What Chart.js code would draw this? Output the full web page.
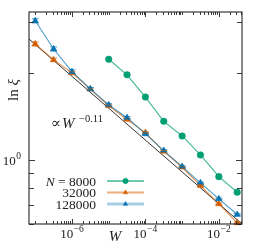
<!DOCTYPE html>
<html>
<head>
<meta charset="utf-8">
<script src="https://cdn.jsdelivr.net/npm/chart.js@4/dist/chart.umd.min.js"></script>
<style>
  html, body { margin: 0; padding: 0; background: #fff; }
</style>
</head>
<body>
<canvas id="chart" width="254" height="248"></canvas>
<script>
// disorder strength W (half-decade steps)
const W = [1e-7, 3.16e-7, 1e-6, 3.16e-6, 1e-5, 3.16e-5, 1e-4, 3.16e-4, 1e-3, 3.16e-3, 1e-2, 3.16e-2]
const xi8000 = [null, null, null, null, 2.23, 1.97, 1.65, 1.36, 1.21, 1.04, 0.875, 0.773]
const xi32000 = [2.52, 2.22, 2.00, 1.757, 1.54, 1.38, 1.243, 1.07, 0.943, 0.815, 0.704, 0.605]
const xi128000 = [3.03, 2.42, 2.02, 1.76, 1.55, 1.40, 1.23, 1.077, 0.948, 0.833, 0.733, 0.647]
const err32000 = [0.04, 0.03, 0.02, 0.015, 0.012, 0.01, 0.01, 0.008, 0.006, 0.005, 0.005, 0.004]
const err128000 = [0.05, 0.04, 0.03, 0.02, 0.015, 0.012, 0.01, 0.008, 0.006, 0.005, 0.005, 0.004]
const seriesLabels = ['8000', '32000', '128000']
// guide line  ∝ W^-0.11
const guideW = [6.3e-8, 4.3e-2]
const guideXi = [2.64, 0.60]
// axis ticks
const xDecades = [1e-7, 1e-6, 1e-5, 1e-4, 1e-3, 1e-2]
const xLabelled = [1e-6, 1e-4, 1e-2]
const yTicks = [0.6, 0.7, 0.8, 0.9, 1, 2, 3]
const yLabelled = [1]

const colors = ['#009E73', '#D55E00', '#0072B2']
const lineColors = ['rgba(0,158,115,0.75)', 'rgba(213,94,0,0.7)', 'rgba(0,114,178,0.7)']
const SERIF = '"Liberation Serif", "DejaVu Serif", serif'

function pts (ys) {
  const out = []
  ys.forEach((y, i) => { if (y !== null) out.push({ x: W[i], y: y }) })
  return out
}

function sciLabel (ctx, exp, cx, baseline, align) {
  ctx.font = '13px ' + SERIF
  const base = '10'
  const bw = ctx.measureText(base).width
  ctx.font = '9.5px ' + SERIF
  const e = exp < 0 ? '\u2212' + Math.abs(exp) : String(exp)
  const ew = ctx.measureText(e).width
  const total = bw + ew + 0.5
  let x0 = cx - total / 2
  if (align === 'right') x0 = cx - total
  ctx.textAlign = 'left'
  ctx.textBaseline = 'alphabetic'
  ctx.font = '13px ' + SERIF
  ctx.fillText(base, x0, baseline)
  ctx.font = '9.5px ' + SERIF
  ctx.fillText(e, x0 + bw + 0.5, baseline - 6)
}

const errorBars = {
  id: 'errorBars',
  afterDatasetsDraw (chart) {
    const ctx = chart.ctx
    const { x, y } = chart.scales
    chart.data.datasets.forEach((ds, di) => {
      if (!ds.errors) return
      ctx.save()
      ctx.strokeStyle = ds.borderColor
      ctx.lineWidth = 1
      ds.data.forEach((p, i) => {
        const e = ds.errors[i]
        const px = x.getPixelForValue(p.x)
        const y1 = y.getPixelForValue(p.y - e)
        const y2 = y.getPixelForValue(p.y + e)
        ctx.beginPath()
        ctx.moveTo(px, y1); ctx.lineTo(px, y2)
        ctx.moveTo(px - 3.5, y1); ctx.lineTo(px + 3.5, y1)
        ctx.moveTo(px - 3.5, y2); ctx.lineTo(px + 3.5, y2)
        ctx.stroke()
      })
      ctx.restore()
    })
  }
}

const frame = {
  id: 'frame',
  afterDraw (chart) {
    const ctx = chart.ctx
    const a = chart.chartArea
    const { x, y } = chart.scales
    ctx.save()
    ctx.strokeStyle = '#262626'
    ctx.lineWidth = 1.1
    ctx.strokeRect(a.left, a.top, a.right - a.left, a.bottom - a.top)

    // x ticks, inward on bottom and top
    ctx.lineWidth = 0.9
    ctx.beginPath()
    xDecades.forEach(d => {
      for (let m = 1; m <= 9; m++) {
        const v = d * m
        if (v < x.min || v > x.max) continue
        const px = Math.round(x.getPixelForValue(v)) + 0.5
        const len = (m === 1 && xLabelled.includes(d)) ? 5 : 3
        ctx.moveTo(px, a.bottom); ctx.lineTo(px, a.bottom - len)
        ctx.moveTo(px, a.top); ctx.lineTo(px, a.top + len)
      }
    })
    // y ticks, inward on left and right
    yTicks.forEach(v => {
      const py = Math.round(y.getPixelForValue(v)) + 0.5
      const len = yLabelled.includes(v) ? 6 : 5
      ctx.moveTo(a.left, py); ctx.lineTo(a.left + len, py)
      ctx.moveTo(a.right, py); ctx.lineTo(a.right - len, py)
    })
    ctx.stroke()

    // tick labels
    ctx.fillStyle = '#222'
    xLabelled.forEach(v => {
      sciLabel(ctx, Math.round(Math.log10(v)), x.getPixelForValue(v), a.bottom + 14, 'center')
    })
    yLabelled.forEach(v => {
      sciLabel(ctx, Math.round(Math.log10(v)), a.left - 8, y.getPixelForValue(v) + 5, 'right')
    })

    // axis titles
    ctx.font = 'italic 15px ' + SERIF
    ctx.textAlign = 'center'
    ctx.textBaseline = 'alphabetic'
    ctx.fillText('W', 115, 241)

    ctx.save()
    ctx.translate(18, 90)
    ctx.rotate(-Math.PI / 2)
    ctx.font = '15px ' + SERIF
    const lnW = ctx.measureText('ln ').width
    ctx.font = 'italic 15px ' + SERIF
    const xiW = ctx.measureText('\u03BE').width
    const start = -(lnW + xiW) / 2
    ctx.textAlign = 'left'
    ctx.font = '15px ' + SERIF
    ctx.fillText('ln ', start, 0)
    ctx.font = 'italic 15px ' + SERIF
    ctx.fillText('\u03BE', start + lnW, 0)
    ctx.restore()

    // guide annotation
    ctx.textAlign = 'left'
    ctx.font = '15px ' + SERIF
    ctx.fillText('\u221D', 51, 128)
    ctx.font = 'italic 15px ' + SERIF
    ctx.fillText('W', 62, 128)
    ctx.font = '10.5px ' + SERIF
    ctx.fillText('\u22120.11', 79, 122)

    // legend: text on the left, handle on the right
    const rows = [181, 192.5, 204]
    const lw = [1.3, 1.8, 3]
    const legLine = ['rgba(0,158,115,0.75)', 'rgba(213,94,0,0.5)', 'rgba(0,114,178,0.35)']
    chart.data.datasets.slice(0, 3).forEach((ds, i) => {
      const yy = rows[i]
      ctx.textAlign = 'right'
      ctx.textBaseline = 'middle'
      ctx.fillStyle = '#222'
      ctx.font = '13.5px ' + SERIF
      ctx.fillText(seriesLabels[i], 96, yy + 1)
      if (i === 0) {
        const numW = ctx.measureText(seriesLabels[i]).width
        const eqW = ctx.measureText(' = ').width
        ctx.fillText(' = ', 96 - numW, yy + 1)
        ctx.font = 'italic 13.5px ' + SERIF
        ctx.fillText('N', 96 - numW - eqW, yy + 1)
      }
      ctx.strokeStyle = legLine[i]
      ctx.lineWidth = lw[i]
      ctx.beginPath()
      ctx.moveTo(107, yy); ctx.lineTo(144, yy)
      ctx.stroke()
      ctx.fillStyle = colors[i]
      ctx.strokeStyle = colors[i]
      ctx.lineWidth = 0.5
      Chart.helpers.drawPoint(ctx, {
        pointStyle: ds.pointStyle,
        radius: i === 0 ? 2.7 : 2.6,
        rotation: 0,
        borderWidth: 0.5
      }, 125.5, yy)
    })
    ctx.restore()
  }
}

const chart = new Chart(
  document.getElementById('chart').getContext('2d'),
  {
    type: 'line',
    data: {
      datasets: [
        {
          label: 'N = ' + seriesLabels[0],
          data: pts(xi8000),
          borderColor: lineColors[0],
          borderWidth: 1.1,
          pointStyle: 'circle',
          pointRadius: 3.3,
          pointBackgroundColor: colors[0],
          pointBorderColor: colors[0],
          pointBorderWidth: 0.5,
          clip: false,
          order: 1
        },
        {
          label: seriesLabels[1],
          data: pts(xi32000),
          errors: err32000,
          borderColor: lineColors[1],
          borderWidth: 1.1,
          pointStyle: 'triangle',
          pointRadius: 3.7,
          pointBackgroundColor: colors[1],
          pointBorderColor: colors[1],
          pointBorderWidth: 0.5,
          clip: false,
          order: 2
        },
        {
          label: seriesLabels[2],
          data: pts(xi128000),
          errors: err128000,
          borderColor: lineColors[2],
          borderWidth: 1.1,
          pointStyle: 'triangle',
          pointRadius: 3.7,
          pointBackgroundColor: colors[2],
          pointBorderColor: colors[2],
          pointBorderWidth: 0.5,
          clip: false,
          order: 1
        },
        {
          label: 'guide',
          data: guideW.map((w, i) => ({ x: w, y: guideXi[i] })),
          borderColor: '#333',
          borderWidth: 1,
          pointRadius: 0,
          order: 10
        }
      ]
    },
    options: {
      responsive: false,
      animation: false,
      devicePixelRatio: 1,
      layout: { padding: { left: 29, right: 12, top: 12, bottom: 24 } },
      scales: {
        x: { type: 'logarithmic', min: 6.76e-8, max: 4.27e-2, display: false },
        y: { type: 'logarithmic', min: 0.6, max: 3.25, display: false }
      },
      plugins: {
        legend: { display: false },
        tooltip: { enabled: false }
      }
    },
    plugins: [errorBars, frame]
  }
)
</script>
</body>
</html>
